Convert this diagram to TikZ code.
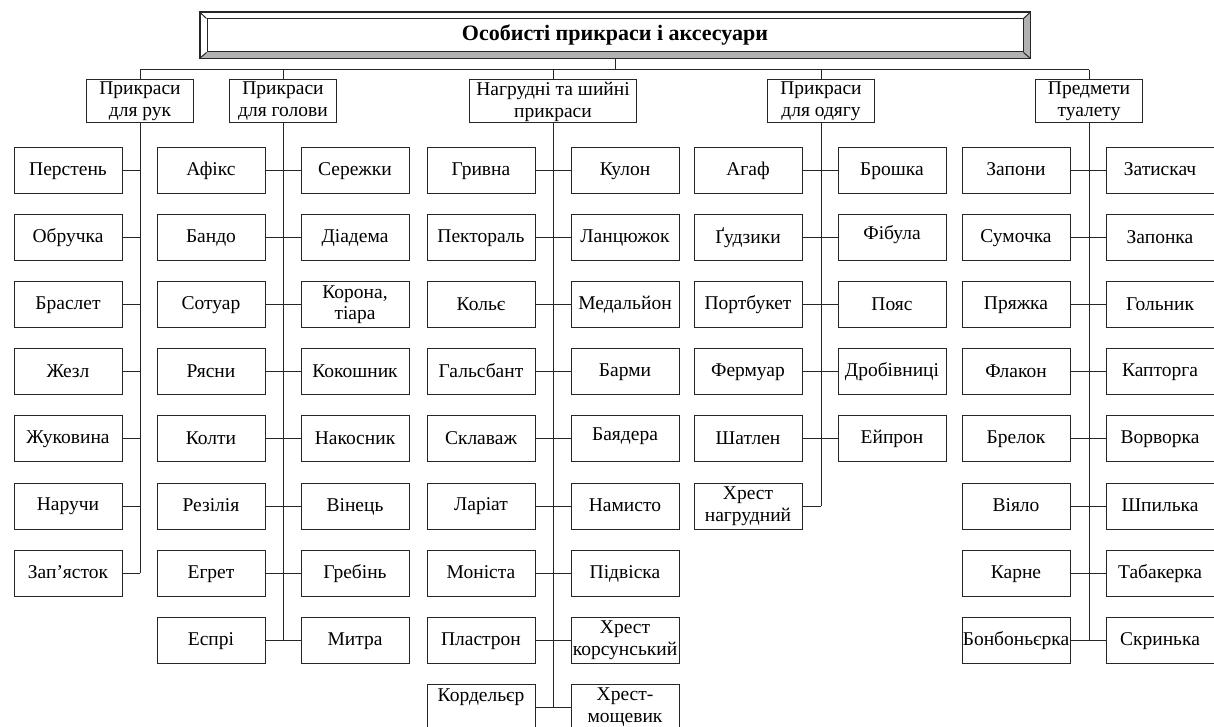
\documentclass[tikz,border=0pt]{standalone}
\usepackage{fontspec}
\setmainfont{Liberation Serif}
\newcommand\mystrut{\rule[-3pt]{0pt}{17pt}}
\begin{document}
\begin{tikzpicture}[x=1pt,y=-1pt,
  ln/.style={line width=1pt, draw=black!85},
  leaf/.style={ln, draw, minimum width=108pt, minimum height=46pt, inner sep=0pt, align=center, font=\fontsize{19.5}{21.5}\selectfont, execute at begin node=\mystrut, execute at end node=\mystrut},
  cat/.style={ln, draw, minimum width=107pt, minimum height=43pt, inner sep=0pt, align=center, font=\fontsize{19.5}{22}\selectfont, execute at begin node=\mystrut, execute at end node=\mystrut},
  conn/.style={ln}]
\clip (0,0) rectangle (1214,727);
% title frame
\node[ln, draw, minimum width=830pt, minimum height=45.5pt, inner sep=0pt] (frame) at (615,35.25) {};
\fill[black!30] (frame.south west) -- (207,52) -- (1023,52) -- (1023,19) -- (frame.north east) -- (frame.south east) -- cycle;
\draw[ln] (frame.south west) rectangle (frame.north east);
\node[ln, draw, fill=white, minimum width=816pt, minimum height=33pt, inner sep=0pt, font=\fontsize{22}{24}\selectfont\bfseries] (title) at (615,35.5) {Особисті прикраси і аксесуари};
\draw[ln] (frame.north west) -- (title.north west);
\draw[ln] (frame.south west) -- (title.south west);
\draw[ln] (frame.north east) -- (title.north east);
\draw[ln] (frame.south east) -- (title.south east);
% categories
\node[cat] (cat1) at (140,101.5) {Прикраси\\для рук};
\node[cat] (cat2) at (283,101.5) {Прикраси\\для голови};
\node[cat, minimum width=167pt] (cat3) at (553,101.5) {Нагрудні та шийні\\прикраси};
\node[cat] (cat4) at (821,101.5) {Прикраси\\для одягу};
\node[cat] (cat5) at (1089,101.5) {Предмети\\туалету};
% bus
\coordinate (busL) at (140,70);
\coordinate (busR) at (1089,70);
\draw[conn] (busL) -- (busR);
\draw[conn] (frame.south) -- (frame.south |- busL);
\foreach \c in {1,...,5} \draw[conn] (cat\c.north) -- (cat\c.north |- busL);
% column 1
\foreach \t [count=\i] in {Перстень,Обручка,Браслет,Жезл,Жуковина,Наручи,Зап’ясток}
  \node[leaf] (c1l\i) at (68,{170.5+67.1*(\i-1)}) {\t};
\foreach \i in {1,...,7} \draw[conn] (c1l\i.east) -- (c1l\i.east -| cat1.south);
\draw[conn] (cat1.south) -- (cat1.south |- c1l7.east);
% column 2
\foreach \t [count=\i] in {Афікс,Бандо,Сотуар,Рясни,Колти,Резілія,Егрет,Еспрі}
  \node[leaf] (c2l\i) at (211,{170.5+67.1*(\i-1)}) {\t};
\foreach \t [count=\i] in {Сережки,Діадема,{Корона,\\тіара},Кокошник,Накосник,Вінець,Гребінь,Митра}
  \node[leaf] (c2r\i) at (355,{170.5+67.1*(\i-1)}) {\t};
\foreach \i in {1,...,8} \draw[conn] (c2l\i.east) -- (c2r\i.west);
\draw[conn] (cat2.south) -- (cat2.south |- c2l8.east);
% column 3
\foreach \t [count=\i] in {Гривна,Пектораль,Кольє,Гальсбант,Склаваж,Ларіат,Моніста,Пластрон,{Кордельєр\\\mbox{}}}
  \node[leaf] (c3l\i) at (481,{170.5+67.1*(\i-1)}) {\t};
\foreach \t [count=\i] in {Кулон,Ланцюжок,Медальйон,Барми,{\raisebox{7pt}{Баядера}},Намисто,Підвіска,{Хрест\\корсунський},{Хрест-\\мощевик}}
  \node[leaf] (c3r\i) at (625,{170.5+67.1*(\i-1)}) {\t};
\foreach \i in {1,...,9} \draw[conn] (c3l\i.east) -- (c3r\i.west);
\draw[conn] (cat3.south) -- (cat3.south |- c3l9.east);
% column 4
\foreach \t [count=\i] in {Агаф,Ґудзики,Портбукет,Фермуар,Шатлен,{Хрест\\нагрудний}}
  \node[leaf] (c4l\i) at (748,{170.5+67.1*(\i-1)}) {\t};
\foreach \t [count=\i] in {Брошка,{\raisebox{8pt}{Фібула}},Пояс,Дробівниці,Ейпрон}
  \node[leaf] (c4r\i) at (892,{170.5+67.1*(\i-1)}) {\t};
\foreach \i in {1,...,5} \draw[conn] (c4l\i.east) -- (c4r\i.west);
\draw[conn] (c4l6.east) -- (c4l6.east -| cat4.south);
\draw[conn] (cat4.south) -- (cat4.south |- c4l6.east);
% column 5
\foreach \t [count=\i] in {Запони,Сумочка,Пряжка,Флакон,Брелок,Віяло,Карне,Бонбоньєрка}
  \node[leaf] (c5l\i) at (1016,{170.5+67.1*(\i-1)}) {\t};
\foreach \t [count=\i] in {Затискач,Запонка,Гольник,Капторга,Ворворка,Шпилька,Табакерка,Скринька}
  \node[leaf] (c5r\i) at (1160,{170.5+67.1*(\i-1)}) {\t};
\foreach \i in {1,...,8} \draw[conn] (c5l\i.east) -- (c5r\i.west);
\draw[conn] (cat5.south) -- (cat5.south |- c5l8.east);
\end{tikzpicture}
\end{document}
